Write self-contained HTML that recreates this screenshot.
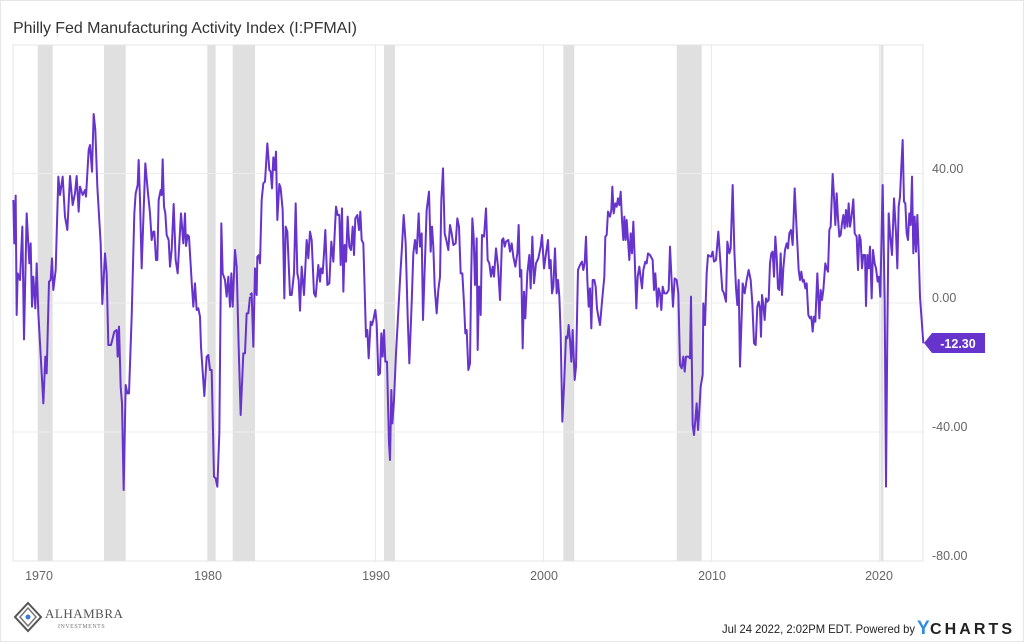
<!DOCTYPE html>
<html><head><meta charset="utf-8"><style>
html,body{margin:0;padding:0;background:#fff;}
body{width:1024px;height:642px;overflow:hidden;position:relative;font-family:"Liberation Sans",sans-serif;}
</style></head><body>
<svg width="1024" height="642" viewBox="0 0 1024 642" xmlns="http://www.w3.org/2000/svg" style="position:absolute;left:0;top:0">
<rect x="0.5" y="0.5" width="1023" height="641" fill="#fff" stroke="#e6e6e6"/>
<text x="13" y="33" font-family="Liberation Sans, sans-serif" font-size="16" fill="#333" textLength="344">Philly Fed Manufacturing Activity Index (I:PFMAI)</text>
<g fill="#e0e0e0">
<rect x="37.7" y="45" width="15" height="516"/>
<rect x="104" y="45" width="21.7" height="516"/>
<rect x="207.3" y="45" width="8.4" height="516"/>
<rect x="232.7" y="45" width="22.3" height="516"/>
<rect x="384" y="45" width="11" height="516"/>
<rect x="563.3" y="45" width="11" height="516"/>
<rect x="676.7" y="45" width="25" height="516"/>
<rect x="880.5" y="45" width="3" height="516"/>
</g>
<g stroke="#ececec" stroke-width="1">
<line x1="13" y1="173.5" x2="923" y2="173.5"/>
<line x1="13" y1="303" x2="923" y2="303"/>
<line x1="13" y1="432" x2="923" y2="432"/>
<line x1="207.5" y1="45" x2="207.5" y2="561"/>
<line x1="375.5" y1="45" x2="375.5" y2="561"/>
<line x1="543.5" y1="45" x2="543.5" y2="561"/>
<line x1="711.5" y1="45" x2="711.5" y2="561"/>
<line x1="879.5" y1="45" x2="879.5" y2="561"/>
</g>
<rect x="13" y="45" width="910" height="516" fill="none" stroke="#e4e4e4"/>
<g fill="none" stroke="#6633cc" stroke-width="2" stroke-linejoin="round">
<g transform="translate(10,100) scale(0.3333333)">
<polyline vector-effect="non-scaling-stroke" points="10,300 13,430 17,287 20,645 23,520 30,540 37,380 42,718 50,340 58,490 62,430 66,620 70,530 76,625 80,490 85,640 100,910 106,770 110,820 117,545 122,540 126,475 130,570 137,510 145,230 150,285 158,230 165,350 172,390 180,228 188,315 195,280 200,228 206,335 210,260 218,285 225,270 228,290 236,150 240,135 246,215 251,42 256,90 262,260 272,430 277,612 285,460 290,520 295,735 303,735 313,695 320,690 323,770 327,680 332,860 336,910 341,1170 347,855 352,880 357,880 365,650 373,340 377,280 383,255 386,180 390,300 395,505 401,330 406,190 413,270 420,340 425,420 430,395 433,395 438,480 442,480 446,300 452,270 455,285 458,178 462,320 466,340 470,405 476,420 480,500 485,450 491,312 497,480 503,520 513,340 520,430 525,340 528,438 533,405 537,410 545,545 550,620 555,550 560,630 565,625 570,650 573,740 583,888 590,770 595,765 600,810 605,810 612,1130 617,1135 622,1160 628,1000 634,370 638,520 645,540 650,590 655,530 660,620 664,520 668,620 675,450 680,500 686,740 692,945 700,760 705,760 710,640 715,640 720,590"/>
</g>
<g transform="translate(240,100) scale(0.3333333)">
<polyline vector-effect="non-scaling-stroke" points="30,585 35,580 40,740 45,505 50,585 52,470 57,465 60,490 65,300 70,250 75,245 82,130 88,210 92,215 96,265 100,172 104,210 108,155 112,360 118,252 122,265 128,330 133,595 137,380 142,395 150,585 155,585 162,520 167,310 172,520 176,540 180,632 185,500 192,585 200,420 205,475 210,395 215,420 222,580 227,590 235,495 240,545 243,505 248,520 252,460 256,390 262,555 268,550 274,425 280,485 288,320 293,345 298,345 302,495 306,325 310,575 314,435 318,485 323,350 328,440 333,450 338,380 342,465 346,355 352,345 357,390 361,335 365,420 370,430 378,710 382,690 386,775 392,665 396,675 400,660 406,630 410,670 415,825 420,820 424,700 428,770 432,690 436,785 441,785 447,1030 450,1080 454,870 457,970 462,900 468,760 473,670 480,540 486,440 491,345 497,430 503,650 508,790 515,610 520,460 525,420 530,460 536,340 540,440 545,400 549,660 555,480 560,330 567,275 572,455 576,380 580,440 584,560 590,640 595,570 600,530 604,300 609,205 614,400 620,425 625,450 630,375 635,400 640,435 647,430 652,355 657,380 662,520 667,520 672,610 676,700 680,690 685,810 690,790 693,560 697,355 701,410 705,555 710,415 713,750 717,560 720,560"/>
</g>
<g transform="translate(470,100) scale(0.3333333)">
<polyline vector-effect="non-scaling-stroke" points="30,560 32,645 36,405 42,410 48,325 53,480 58,490 63,530 68,500 72,530 78,445 84,500 90,600 96,420 100,415 104,440 108,425 115,420 120,455 125,430 130,470 136,500 142,460 146,375 150,530 154,510 158,745 162,575 166,655 172,520 178,465 182,565 187,410 192,550 198,490 205,475 212,440 216,405 222,505 226,475 234,420 238,505 242,480 246,580 250,560 255,445 260,580 264,540 268,590 272,700 277,965 282,860 288,710 292,715 296,675 300,720 304,785 308,690 314,840 318,800 324,510 330,495 336,485 340,510 344,490 348,410 352,540 356,620 360,565 364,685 368,540 373,540 377,560 381,625 386,655 390,675 396,605 403,530 406,410 410,405 414,335 420,350 424,330 427,260 431,340 436,310 440,320 444,295 448,315 452,275 456,360 460,420 463,350 467,420 470,360 474,420 478,480 482,400 486,460 490,365 494,470 499,625 503,530 508,500 516,565 520,510 526,485 530,490 534,460 540,465 548,480 552,570 556,520 562,620 566,565 570,580 574,630 578,560 583,580 590,580 596,570 600,440 605,545 609,620 614,535 620,540 625,580 630,795 635,805 640,770 644,815 648,770 655,770 660,775 663,590 668,975 672,1005 676,960 680,910 684,990 688,930 692,860 698,825 700,610 705,675 710,520 714,465 720,470"/>
</g>
<g transform="translate(690,100) scale(0.3333333)">
<polyline vector-effect="non-scaling-stroke" points="60,470 63,470 68,455 72,485 78,480 85,395 90,470 97,570 102,580 108,605 112,425 118,460 122,445 128,255 133,450 138,565 142,615 146,540 150,800 155,650 158,550 164,580 170,540 176,510 182,540 187,610 192,730 197,735 202,620 206,605 210,625 213,710 216,585 220,615 224,660 228,595 232,605 236,600 240,490 244,460 248,455 252,530 256,410 260,470 264,565 268,570 272,460 276,585 280,505 285,450 290,430 294,445 298,400 303,390 308,435 314,265 320,390 326,510 330,540 334,515 338,545 342,540 346,565 350,550 355,645 360,655 364,650 368,695 372,650 376,665 382,520 388,655 392,570 396,600 400,570 406,490 410,505 414,515 418,390 422,380 428,222 432,290 436,375 440,280 444,355 448,410 452,405 456,370 460,345 464,385 468,330 472,380 476,310 480,380 484,355 490,298 494,400 500,410 504,510 508,405 512,420 516,505 520,465 525,465 528,618 532,465 536,505 540,440 545,595 549,450 554,490 558,505 563,545 567,530 571,590 575,390 578,255 584,600 588,1160 592,700 596,340 600,400 606,465 612,295 618,400 622,505 626,320 630,290 634,200 638,120 642,305 646,310 650,400 654,420 658,340 662,375 666,230 670,460 674,350 678,455 682,345 686,455 690,590 700,730"/>
</g>
</g>
<polygon points="924,343 932,333 985,333 985,353 932,353" fill="#6633cc"/>
<text x="958" y="348" text-anchor="middle" font-size="12.5" font-weight="bold" fill="#fff">-12.30</text>
<g font-size="12.5" fill="#666">
<text x="932" y="173">40.00</text>
<text x="932" y="302">0.00</text>
<text x="932" y="431">-40.00</text>
<text x="932" y="560">-80.00</text>
</g>
<g font-size="12.5" fill="#666" text-anchor="middle">
<text x="39" y="580">1970</text>
<text x="208" y="580">1980</text>
<text x="376" y="580">1990</text>
<text x="544" y="580">2000</text>
<text x="712" y="580">2010</text>
<text x="879" y="580">2020</text>
</g>
<g transform="translate(28,617)">
<polygon points="0,-14 13,0 0,14 -13,0" fill="none" stroke="#555" stroke-width="2"/>
<polygon points="0,-9 8,0 0,9 -8,0" fill="none" stroke="#777" stroke-width="1.5"/>
<circle cx="0" cy="0" r="2.5" fill="#3b7bd5"/>
</g>
<text x="45" y="618" font-family="Liberation Serif, serif" font-size="13" fill="#555" letter-spacing="0.5">ALHAMBRA</text>
<text x="58" y="628" font-family="Liberation Serif, serif" font-size="6" fill="#777" letter-spacing="0.5">INVESTMENTS</text>
<text x="722" y="633" font-size="12" fill="#222" textLength="193" lengthAdjust="spacingAndGlyphs">Jul 24 2022, 2:02PM EDT. Powered by</text>
<text x="917" y="634" font-size="19" font-weight="bold" fill="#2f8de4">Y</text>
<text x="930" y="634" font-size="16" font-weight="bold" fill="#222" textLength="82">CHARTS</text>
</svg>
</body></html>
